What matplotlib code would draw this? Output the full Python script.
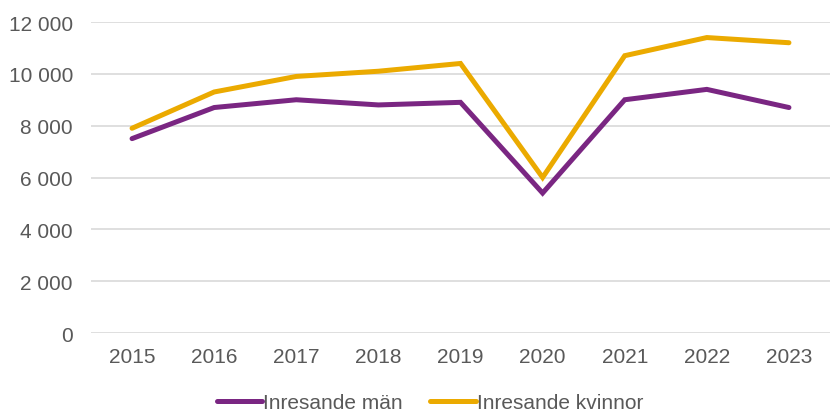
import matplotlib
matplotlib.use("Agg")
import matplotlib.pyplot as plt

years = ["2015", "2016", "2017", "2018", "2019", "2020", "2021", "2022", "2023"]
men = [7500, 8700, 9000, 8800, 8900, 5400, 9000, 9400, 8700]
women = [7900, 9300, 9900, 10100, 10400, 6000, 10700, 11400, 11200]
yticks = [0, 2000, 4000, 6000, 8000, 10000, 12000]
labels = ["Inresande män", "Inresande kvinnor"]

plt.rcParams['font.family'] = ['Liberation Sans', 'DejaVu Sans']

fig = plt.figure(figsize=(8.32, 4.14), dpi=100)
ax = fig.add_axes([91/832, 1-334/414, (830-91)/832, (334-23)/414])

x = list(range(len(years)))
purple = "#7A2682"
gold = "#EBAA00"
ax.plot(x, men, color=purple, lw=3.6, solid_joinstyle='miter', solid_capstyle='round', label=labels[0], zorder=3)
ax.plot(x, women, color=gold, lw=3.6, solid_joinstyle='miter', solid_capstyle='round', label=labels[1], zorder=3)

ax.set_xlim(-0.5, len(years) - 0.5)
ax.set_ylim(0, 12000)
ax.set_yticks(yticks)
ax.set_yticklabels([f"{v:,}".replace(",", " ") for v in yticks])
ax.set_xticks(x)
ax.set_xticklabels(years)
ax.yaxis.grid(True, color="#D9D9D9", lw=1.2)
ax.set_axisbelow(True)
for s in ax.spines.values():
    s.set_visible(False)
ax.tick_params(axis='both', length=0, labelsize=15, colors="#595959")
ax.tick_params(axis='y', pad=13)
ax.tick_params(axis='x', pad=10)

fig.legend(loc='center', bbox_to_anchor=(430/832, 1-404/414), ncol=2, frameon=False,
           fontsize=15, handlelength=2.2, handletextpad=0.05, columnspacing=1.3,
           labelcolor="#595959")

fig.savefig("out.png", dpi=100)
